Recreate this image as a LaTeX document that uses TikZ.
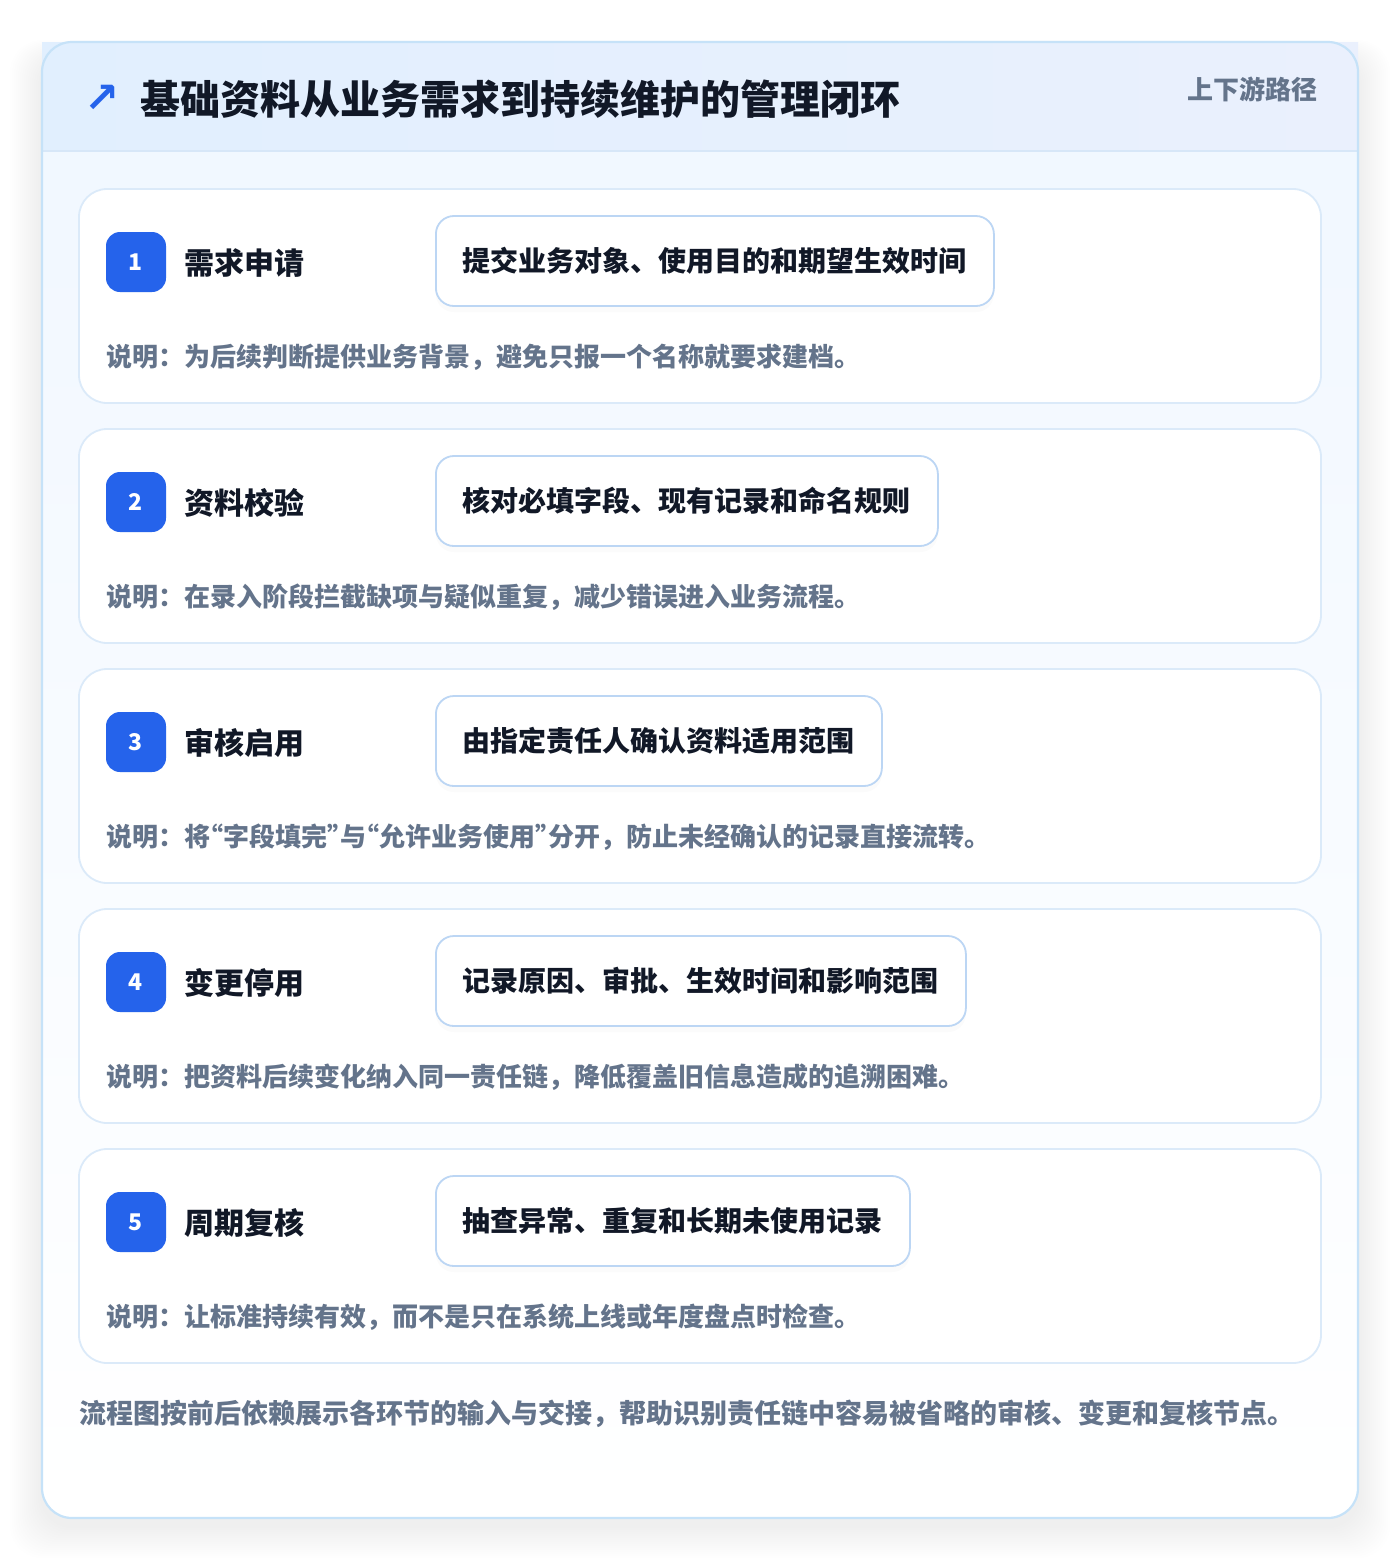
\documentclass[tikz,border=0pt]{standalone}
\usepackage{fontspec}
\setmainfont{Noto Sans CJK SC}
\newfontfamily\symfont{DejaVu Sans}
\newfontfamily\halffont{Noto Sans CJK SC}[RawFeature=+halt]
\newcommand{\openq}{{\halffont “}}
\newcommand{\closeq}{{\halffont ”}}
\usetikzlibrary{positioning,shadows}
\definecolor{ink}{HTML}{111827}
\definecolor{muted}{HTML}{64748B}
\definecolor{brand}{HTML}{2563EB}
\definecolor{outeredge}{HTML}{C6E2F8}
\definecolor{cardedge}{HTML}{DBEAF9}
\definecolor{boxedge}{HTML}{BCD6F4}
\definecolor{headL}{HTML}{E1EFFE}
\definecolor{headR}{HTML}{EAF0FD}
\definecolor{headline}{HTML}{D7E7F8}
\definecolor{bodytop}{HTML}{F0F7FF}

\begin{document}
\begin{tikzpicture}
[x=0.5pt,y=-0.5pt,
  stepCard/.style={draw=cardedge,line width=0.9pt,fill=white,rounded corners=14pt},%
  badgeDecorate/.style={shape=rectangle,fill=brand,rounded corners=7pt,minimum size=30pt,
    inner sep=0pt,text=white,font=\bfseries\fontsize{11.5}{11.5}\selectfont},%
  stageText/.style={anchor=west,inner sep=0pt,text=ink,font=\bfseries\fontsize{15}{15}\selectfont},%
  taskDecorate/.style={anchor=west,shape=rectangle,draw=boxedge,line width=0.9pt,fill=white,
    rounded corners=9pt,minimum height=45pt,inner xsep=13.5pt,text=ink,
    drop shadow={opacity=0.03,shadow xshift=0pt,shadow yshift=-3pt},
    font=\bfseries\fontsize{14}{14}\selectfont},%
  remarkText/.style={anchor=west,inner sep=0pt,text=muted,font=\bfseries\fontsize{13}{13}\selectfont}]
\useasboundingbox (0,0) rectangle (1400,1560);
\fill[white] (0,0) rectangle (1400,1560);
%% soft shadow round the panel
\foreach \i in {1,...,16}
{
  \fill[black,opacity=0.005,rounded corners=16pt]
    (42-2*\i,42-\i+14) rectangle (1358+2*\i,1518+2*\i+8);
}
%% panel and header
\shade[top color=bodytop,bottom color=white,rounded corners=15pt] (42,42) rectangle (1358,1518);
\shade[left color=headL,right color=headR] (42,42) rectangle (1358,151);
\draw[headline,line width=1pt] (42,151) -- (1358,151);
\draw[outeredge,line width=1.1pt,rounded corners=15pt] (42,42) rectangle (1358,1518);
\node (icon) at (102,99) [text=brand,font=\symfont\bfseries\fontsize{21}{21}\selectfont] {↗};
\node (heading) at (140,99) [anchor=west,inner sep=0pt,text=ink,font=\bfseries\fontsize{20}{20}\selectfont]
  {基础资料从业务需求到持续维护的管理闭环};
\node (tag) at (1318,89) [anchor=east,inner sep=0pt,text=muted,font=\bfseries\fontsize{13}{13}\selectfont]
  {上下游路径};
%% steps
\foreach \n/\stage/\task/\remark in {
  1/需求申请/提交业务对象、使用目的和期望生效时间/说明：为后续判断提供业务背景，避免只报一个名称就要求建档。,
  2/资料校验/核对必填字段、现有记录和命名规则/说明：在录入阶段拦截缺项与疑似重复，减少错误进入业务流程。,
  3/审核启用/由指定责任人确认资料适用范围/说明：将\openq 字段填完\closeq 与\openq 允许业务使用\closeq 分开，防止未经确认的记录直接流转。,
  4/变更停用/记录原因、审批、生效时间和影响范围/说明：把资料后续变化纳入同一责任链，降低覆盖旧信息造成的追溯困难。,
  5/周期复核/抽查异常、重复和长期未使用记录/说明：让标准持续有效，而不是只在系统上线或年度盘点时检查。}
{
  \pgfmathsetmacro\top{189+(\n-1)*240}
  \draw[stepCard] (79,\top) rectangle (1321,\top+214);
  \node (badge\n) at (136,\top+73) [badgeDecorate] {\n};
  \node (stage\n) at (184,\top+74) [stageText] {\stage};
  \node (task\n) at (435,\top+72) [taskDecorate] {\task};
  \node (remark\n) at (106,\top+168) [remarkText] {\remark};
}
\node (summary) at (79,1414) [anchor=west,inner sep=0pt,text=muted,font=\bfseries\fontsize{13.5}{13.5}\selectfont]
  {流程图按前后依赖展示各环节的输入与交接，帮助识别责任链中容易被省略的审核、变更和复核节点。};
\end{tikzpicture}
\end{document}
